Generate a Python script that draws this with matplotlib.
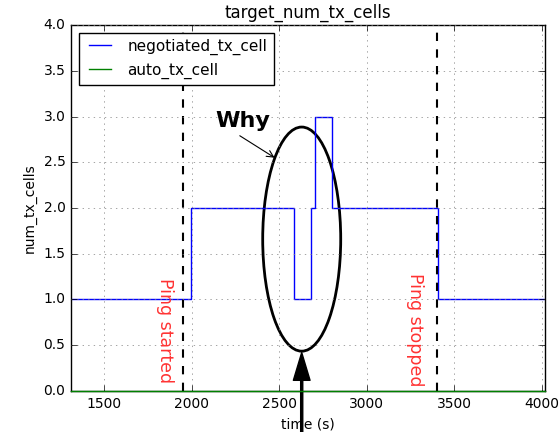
import matplotlib
matplotlib.use("Agg")
import matplotlib.pyplot as plt
from matplotlib.patches import Ellipse

# ───────────────────────────────────────────────────────
# data
neg_time = [1310, 1995, 2585, 2680, 2705, 2800, 3410, 4020]
neg_cells = [1, 2, 1, 2, 3, 2, 1, 1]
auto_time = [1310, 4020]
auto_cells = [0, 0]
ping_start = 1950
ping_stop = 3400

# ───────────────────────────────────────────────────────
plt.style.use("classic")
fig = plt.figure(figsize=(5.59, 4.32), dpi=100, facecolor="white")
ax = fig.add_axes([0.127, 0.095, 0.848, 0.847])

ax.step(neg_time, neg_cells, where="post", color="b", label="negotiated_tx_cell")
ax.step(auto_time, auto_cells, where="post", color="g", label="auto_tx_cell",
        clip_on=False, zorder=5)

ax.axvline(ping_start, color="k", linestyle="--", linewidth=1.5)
ax.axvline(ping_stop, color="k", linestyle="--", linewidth=1.5)

ax.text(1846, 0.66, "Ping started", rotation=-90, color="#ff3333",
        fontsize=12.5, ha="center", va="center")
ax.text(3274, 0.67, "Ping stopped", rotation=-90, color="#ff3333",
        fontsize=12.5, ha="center", va="center")

# the "why" ellipse and arrows
ax.add_patch(Ellipse((2629, 1.66), 446, 2.45, fill=False, edgecolor="k", linewidth=2))
ax.annotate("", xy=(2629, 0.42), xytext=(2629, -0.6), annotation_clip=False,
            arrowprops=dict(facecolor="k", edgecolor="k", width=1.5,
                            headwidth=12, headlength=20, shrink=0))
ax.text(2291, 2.95, "Why", fontsize=16, fontweight="bold", ha="center", va="center")
ax.annotate("", xy=(2474, 2.55), xytext=(2275, 2.79),
            arrowprops=dict(arrowstyle="->", color="k", lw=0.8,
                            shrinkA=0, shrinkB=0))

ax.set_xlim(1310, 4020)
ax.set_ylim(0, 4)
ax.set_xticks([1500, 2000, 2500, 3000, 3500, 4000])
ax.set_title("target_num_tx_cells", fontsize=12)
ax.set_xlabel("time (s)", fontsize=10)
ax.set_ylabel("num_tx_cells", fontsize=10)
ax.tick_params(labelsize=10)
ax.grid(True, color="gray", linestyle=":")
ax.legend(loc="upper left", fontsize=11)

fig.savefig("out.png", dpi=100, facecolor="white")
